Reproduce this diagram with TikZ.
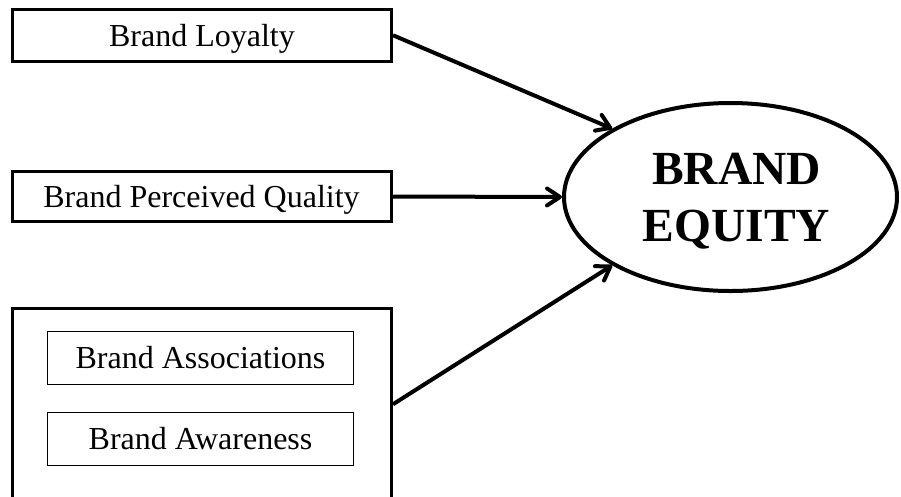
\documentclass[tikz,border=0pt]{standalone}
\usepackage{fontspec}
\setmainfont{Liberation Serif}
\usetikzlibrary{shapes.geometric,arrows.meta}
\begin{document}
\begin{tikzpicture}[x=1pt,y=-1pt,
  box/.style={draw,line width=3pt,minimum width=379pt,minimum height=52.5pt,inner sep=0pt,
    font=\fontsize{32}{38}\selectfont,text height=22pt,text depth=0pt},
  inbox/.style={draw,line width=1pt,minimum width=306pt,minimum height=53pt,inner sep=0pt,
    font=\fontsize{32}{38}\selectfont,text height=21pt,text depth=0pt},
  groupbox/.style={draw,line width=3pt,minimum width=379pt,minimum height=191.5pt,inner sep=0pt},
  eqnode/.style={ellipse,draw,line width=4pt,minimum width=333pt,minimum height=188pt,inner sep=0pt,
    font=\fontsize{47.5}{57}\selectfont\bfseries},
  arr/.style={line width=4pt,-{Straight Barb[length=13pt,width=17pt,round]}}
]
\useasboundingbox (0,0) rectangle (901,496);
\clip (0,0) rectangle (901,496);
\fill[white] (0,0) rectangle (901,496);

\node[box] (loyal) at (202,35.25) {Brand Loyalty};
\node[box,minimum height=50pt] (qual) at (201.5,196.5) {Brand Perceived Quality};
\node[groupbox] (group) at (202,404.25) {};
\node[inbox] (assoc) at (200.5,358) {Brand Associations};
\node[inbox] (aware) at (200.5,438.5) {Brand Awareness};

\node[eqnode] (equity) at (730.5,197)
  {\begin{tabular}{@{\hspace{12pt}}c@{}}\rule{0pt}{50pt}BRAND\\EQUITY\end{tabular}};

\draw[arr] (loyal.east) -- (equity.150);
\draw[arr] (qual.east) -- (equity.west);
\draw[arr] (group.east) -- (equity.210);
\end{tikzpicture}
\end{document}
